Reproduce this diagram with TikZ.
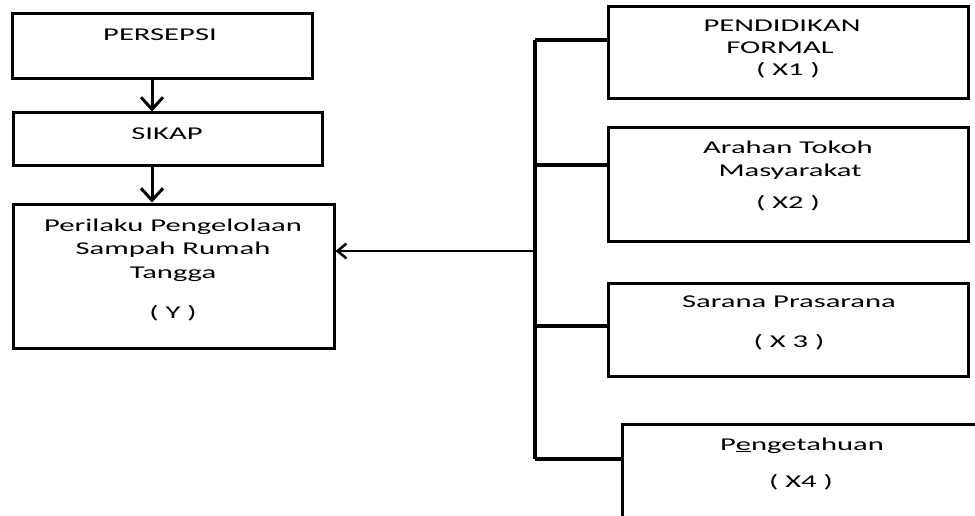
\documentclass[tikz,border=0pt]{standalone}
\usepackage{fontspec}
\setmainfont{Carlito}[FakeStretch=1.7]
\usetikzlibrary{arrows.meta}
\begin{document}
\begin{tikzpicture}[x=1pt,y=1pt,
  box/.style={draw=black, line width=3pt, rectangle, inner sep=0pt},
  txt/.style={anchor=base, inner sep=0pt, font=\fontsize{18}{22}\selectfont},
  conn/.style={draw=black, line width=3.5pt},
  downarr/.style={line width=3pt, -{Straight Barb[length=12pt,width=22pt,line width=3pt]}},
  leftarr/.style={line width=2pt, -{Straight Barb[length=9pt,width=15pt,line width=2.5pt]}}]
\useasboundingbox (0,0) rectangle (975,-516);
\clip (0,0) rectangle (975,-516);
% left column boxes
\node[box, minimum width=300pt, minimum height=65pt] (persepsi) at (162,-46.5) {};
\node[box, minimum width=309pt, minimum height=53pt] (sikap) at (167.5,-139.5) {};
\node[box, minimum width=321pt, minimum height=144pt] (perilaku) at (173.5,-276) {};
% right column boxes
\node[box, minimum width=360pt, minimum height=92pt] (x1) at (788,-53) {};
\node[box, minimum width=360pt, minimum height=113pt] (x2) at (788,-184.5) {};
\node[box, minimum width=360pt, minimum height=93pt] (x3) at (788,-329.5) {};
\node[box, minimum width=368pt, minimum height=106pt] (x4) at (806,-477) {};
% texts
\node[txt] (tp) at (160,-41) {PERSEPSI};
\node[txt] (ts) at (167,-140) {SIKAP};
\node[txt] (ty1) at (173,-231) {Perilaku Pengelolaan};
\node[txt] (ty2) at (173,-254) {Sampah Rumah};
\node[txt] (ty3) at (173,-278) {Tangga};
\node[txt] (ty4) at (173,-318) {( Y )};
\node[txt] (t11) at (782,-32) {PENDIDIKAN};
\node[txt] (t12) at (780,-54) {FORMAL};
\node[txt] (t13) at (788,-76) {( X1 )};
\node[txt] (t21) at (788,-154) {Arahan Tokoh};
\node[txt] (t22) at (790,-177) {Masyarakat};
\node[txt] (t23) at (788,-208) {( X2 )};
\node[txt] (t31) at (789,-307) {Sarana Prasarana};
\node[txt] (t32) at (789,-347) {( X 3 )};
\node[txt] (t41) at (802,-450) {P\underline{e}ngetahuan};
\node[txt] (t42) at (801,-487) {( X4 )};
% vertical arrows
\draw[downarr] (persepsi.south) ++(-10,0) coordinate (pa) -- (pa |- sikap.north);
\draw[downarr] (sikap.south) ++(-15.5,0) coordinate (sa) -- (sa |- perilaku.north);
% trunk and branches
\coordinate (b1) at (535,-40);
\coordinate (b2) at (535,-165);
\coordinate (b3) at (535,-326);
\coordinate (b4) at (535,-459);
\coordinate (ba) at (535,-251);
\draw[conn, line width=4pt] (b1) -- (b4);
\draw[conn] (b1) -- (b1 -| x1.west);
\draw[conn] (b2) -- (b2 -| x2.west);
\draw[conn] (b3) -- (b3 -| x3.west);
\draw[conn] (b4) -- (b4 -| x4.west);
\draw[leftarr] (ba) -- (ba -| perilaku.east);
\end{tikzpicture}
\end{document}
